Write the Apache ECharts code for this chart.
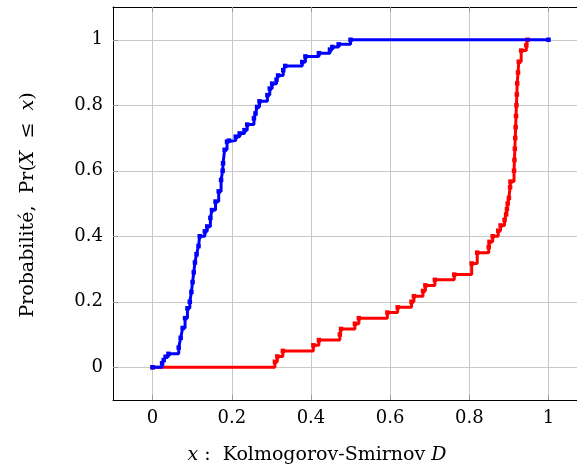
<!DOCTYPE html>
<html>
<head>
<meta charset="utf-8">
<script src="https://cdn.jsdelivr.net/npm/echarts@6/dist/echarts.min.js"></script>
<style>html,body{margin:0;padding:0;background:#fff}#c{width:577px;height:471px}</style>
</head>
<body>
<div id="c"></div>
<script>
const blueX = [0, 0.024, 0.028, 0.033, 0.040, 0.066, 0.071, 0.076, 0.082, 0.088, 0.094, 0.098, 0.101, 0.104, 0.107, 0.111, 0.116, 0.119, 0.132, 0.138, 0.146, 0.150, 0.159, 0.167, 0.173, 0.177, 0.178, 0.182, 0.188, 0.193, 0.210, 0.220, 0.232, 0.239, 0.256, 0.260, 0.264, 0.270, 0.290, 0.296, 0.302, 0.313, 0.317, 0.330, 0.335, 0.378, 0.386, 0.420, 0.448, 0.454, 0.470, 0.500, 1.0];
const blueY = [0, 0.012, 0.022, 0.032, 0.041, 0.060, 0.090, 0.120, 0.150, 0.180, 0.200, 0.230, 0.260, 0.290, 0.320, 0.345, 0.370, 0.400, 0.415, 0.430, 0.456, 0.480, 0.506, 0.537, 0.572, 0.600, 0.623, 0.664, 0.689, 0.692, 0.704, 0.714, 0.724, 0.741, 0.760, 0.775, 0.795, 0.812, 0.831, 0.851, 0.866, 0.878, 0.891, 0.907, 0.920, 0.932, 0.949, 0.959, 0.970, 0.978, 0.986, 1.0, 1.0];
const redX = [0, 0.309, 0.315, 0.329, 0.406, 0.420, 0.473, 0.476, 0.511, 0.521, 0.593, 0.619, 0.654, 0.660, 0.683, 0.689, 0.713, 0.762, 0.806, 0.820, 0.849, 0.851, 0.859, 0.873, 0.879, 0.889, 0.893, 0.895, 0.897, 0.900, 0.903, 0.904, 0.913, 0.914, 0.915, 0.916, 0.917, 0.918, 0.919, 0.920, 0.921, 0.923, 0.925, 0.931, 0.944, 0.947];
const redY = [0, 0.0167, 0.033, 0.050, 0.067, 0.083, 0.100, 0.117, 0.133, 0.150, 0.167, 0.183, 0.200, 0.217, 0.233, 0.250, 0.267, 0.283, 0.317, 0.350, 0.367, 0.383, 0.400, 0.417, 0.433, 0.450, 0.467, 0.483, 0.500, 0.517, 0.550, 0.567, 0.600, 0.633, 0.667, 0.700, 0.733, 0.767, 0.800, 0.833, 0.867, 0.900, 0.933, 0.967, 0.983, 1.0];
const tickValues = [0, 0.2, 0.4, 0.6, 0.8, 1];
const tickLabels = ['0', '0.2', '0.4', '0.6', '0.8', '1'];

const zip = (xs, ys) => xs.map((x, i) => [x, ys[i]]);
const FONT = '"DejaVu Serif", "Liberation Serif", serif';
const FS = 18;
const TFS = 19;
const fmt = v => { const i = tickValues.findIndex(t => Math.abs(t - v) < 1e-9); return i >= 0 ? tickLabels[i] : ''; };

const tick = { show: true, inside: true, length: 5, customValues: tickValues, lineStyle: { color: '#999', width: 1 } };
const split = { show: true, lineStyle: { color: '#c8c8c8', width: 1 } };
const line = { show: true, onZero: false, lineStyle: { color: '#000', width: 1 } };
const label = (m) => ({ show: true, customValues: tickValues, formatter: fmt, color: '#000', fontFamily: FONT, fontSize: FS, margin: m });

const chart = echarts.init(document.getElementById('c'), null, { renderer: 'canvas' });
chart.setOption({
  animation: false,
  backgroundColor: '#fff',
  grid: { left: 113, top: 7, right: 0, bottom: 71, show: false },
  xAxis: [
    { type: 'value', min: -0.1, max: 1.072, position: 'bottom', axisLine: line, axisTick: tick, axisLabel: label(9), splitLine: split },
    { type: 'value', min: -0.1, max: 1.072, position: 'top', axisLine: line, axisTick: tick, axisLabel: { show: false }, splitLine: { show: false } }
  ],
  yAxis: [
    { type: 'value', min: -0.1, max: 1.1, position: 'left', axisLine: line, axisTick: tick, axisLabel: label(10), splitLine: split }
  ],
  series: [
    {
      type: 'line', step: 'end', data: zip(redX, redY), z: 2,
      lineStyle: { color: '#ff0000', width: 3 },
      itemStyle: { color: '#ff0000' },
      symbol: 'rect', symbolSize: 4.5, showAllSymbol: true
    },
    {
      type: 'line', step: 'end', data: zip(blueX, blueY), z: 3,
      lineStyle: { color: '#0000ff', width: 3 },
      itemStyle: { color: '#0000ff' },
      symbol: 'rect', symbolSize: 4.5, showAllSymbol: true
    }
  ],
  graphic: [
    {
      type: 'text', x: 317, y: 455, z: 10,
      style: {
        text: '{i|x} :  Kolmogorov-Smirnov {i|D}',
        fontFamily: FONT, fontSize: TFS, fill: '#000', align: 'center', verticalAlign: 'middle',
        rich: { i: { fontStyle: 'italic', fontFamily: FONT, fontSize: TFS } }
      }
    },
    {
      type: 'text', x: 28, y: 205, rotation: Math.PI / 2, z: 10,
      style: {
        text: 'Probabilité,  Pr({i|X}  ≤  {i|x})',
        fontFamily: FONT, fontSize: TFS, fill: '#000', align: 'center', verticalAlign: 'middle',
        rich: { i: { fontStyle: 'italic', fontFamily: FONT, fontSize: TFS } }
      }
    }
  ]
});
</script>
</body>
</html>
